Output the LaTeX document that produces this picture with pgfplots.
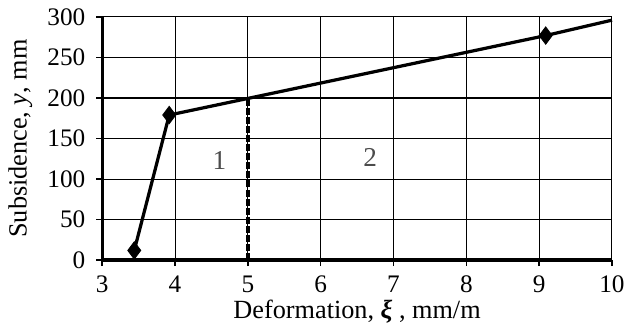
\documentclass[border=0pt]{standalone}
\usepackage{fontspec}
\setmainfont{Liberation Serif}
\usepackage{pgfplots}
\pgfplotsset{compat=1.18}
\begin{document}
\fontsize{12.5}{14}\selectfont
\begin{tikzpicture}
\begin{axis}[
  scale only axis,
  width=252.5pt, height=120.5pt,
  xmin=3, xmax=10, ymin=0, ymax=300,
  xtick={3,4,...,10}, ytick={0,50,...,300},
  /pgf/number format/assume math mode=true,
  grid=major,
  major grid style={black, line width=0.5pt},
  axis line style={black, line width=0.5pt},
  tick style={black, line width=0.8pt},
  tick align=outside,
  major tick length=3pt,
  xtick pos=bottom, ytick pos=left,
  ticklabel style={font=\fontsize{12.5}{14}\selectfont},
  xticklabel style={yshift=-0.5pt},
  yticklabel style={xshift=-1pt},
  label style={font=\fontsize{13}{15}\selectfont},
  xlabel={Deformation, \textbf{\textit{ξ}} , mm/m},
  ylabel={Subsidence, \textit{y}, mm},
  xlabel style={yshift=5pt},
  ylabel style={yshift=-1pt},
  clip=false,
]
% thick bottom and left axis lines
\addplot[black, line width=1.7pt, forget plot] coordinates {(3,0) (10,0)};
\addplot[black, line width=1.7pt, forget plot] coordinates {(3,0) (3,300)};
% dashed divider
\addplot[black, line width=2pt, dash pattern=on 3.5pt off 1pt, forget plot] coordinates {(5,0) (5,200)};
% main line
\addplot[black, line width=1.6pt, forget plot] coordinates {(3.44,12) (3.92,179) (9.09,277) (10,296)};
\addplot[only marks, mark=diamond*, mark size=4.3pt, black, forget plot] coordinates {(3.44,12) (3.92,179) (9.09,277)};
\node[font=\fontsize{13.5}{15}\selectfont, color=black!70] at (axis cs:4.61,123) {1};
\node[font=\fontsize{13.5}{15}\selectfont, color=black!70] at (axis cs:6.68,127) {2};
\end{axis}
\end{tikzpicture}
\end{document}
